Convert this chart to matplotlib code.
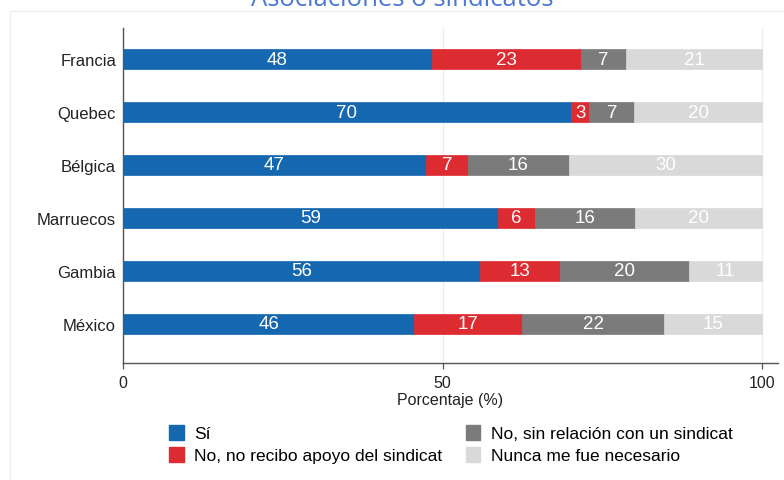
import matplotlib
matplotlib.use("Agg")
import matplotlib.pyplot as plt
from matplotlib.patches import Patch, Rectangle
import numpy as np

plt.rcParams['font.family'] = ['Liberation Sans', 'DejaVu Sans']

countries = ["Francia", "Quebec", "Bélgica", "Marruecos", "Gambia", "México"]
series_names = ["Sí", "No, no recibo apoyo del sindicat",
                "No, sin relación con un sindicat", "Nunca me fue necesario"]
si = [48.3, 70.1, 47.4, 58.7, 55.8, 45.6]
no_apoyo = [23.4, 2.9, 6.6, 5.8, 12.6, 16.8]
sin_relacion = [7.0, 7.0, 15.8, 15.6, 20.2, 22.3]
nunca = [21.3, 20.0, 30.2, 19.9, 11.4, 15.3]
x_ticks = [0, 50, 100]
title = "Asociaciones o sindicatos"
x_label = "Porcentaje (%)"

colors = ["#1567b0", "#dc2b31", "#7b7b7b", "#d9d9d9"]

fig = plt.figure(figsize=(7.84, 4.81), dpi=100)
ax = fig.add_axes([123 / 784, 1 - 364 / 481, 655 / 784, 335 / 481])

# faint outer frame of the graph region
fig.patches.append(Rectangle((10 / 784, -0.1), 1.2, 1 - 12 / 481 + 0.1,
                             transform=fig.transFigure, fill=False,
                             edgecolor="#efefef", linewidth=1.0))

ypos = np.arange(len(countries))
left = np.zeros(len(countries))
for vals, col, name in zip([si, no_apoyo, sin_relacion, nunca], colors, series_names):
    vals = np.array(vals)
    bars = ax.barh(ypos, vals, left=left, height=0.39, color=col, label=name,
                   edgecolor=col, linewidth=0.5, zorder=3)
    ax.bar_label(bars, labels=[f"{v:.0f}" for v in vals], label_type="center",
                 color="white", fontsize=13.5)
    left += vals

ax.set_xlim(0, 102.5)
ax.set_ylim(5.736, -0.585)
ax.set_yticks(ypos, countries, fontsize=12, color="#222222")
ax.tick_params(axis="y", length=0, pad=5)
ax.set_xticks(x_ticks, [str(t) for t in x_ticks], fontsize=11.5, color="#222222")
ax.tick_params(axis="x", length=4, width=0.9, color="#555555", pad=5)
ax.set_xlabel(x_label, fontsize=11.5, color="#222222", labelpad=1)
ax.xaxis.grid(True, color="#e4eff2", linewidth=0.9, zorder=0)
ax.set_axisbelow(True)
for s in ["top", "right"]:
    ax.spines[s].set_visible(False)
for s in ["left", "bottom"]:
    ax.spines[s].set_color("#555555")
    ax.spines[s].set_linewidth(1.0)

fig.text(0.513, 1 - 6 / 481, title, ha="center", va="baseline",
         fontsize=18.5, color="#4a78d4", family=["Open Sans", "DejaVu Sans"])

handles = [Patch(facecolor=c, edgecolor=c) for c in colors]
fig.legend(handles, series_names, ncol=2, loc="upper left",
           bbox_to_anchor=(169 / 784, 1 - 426 / 481), frameon=False,
           fontsize=12.5, handlelength=0.85, handleheight=0.95,
           handletextpad=0.6, columnspacing=1.35, labelspacing=0.3,
           borderaxespad=0, borderpad=0)

fig.savefig("out.png", dpi=100, facecolor="white")
